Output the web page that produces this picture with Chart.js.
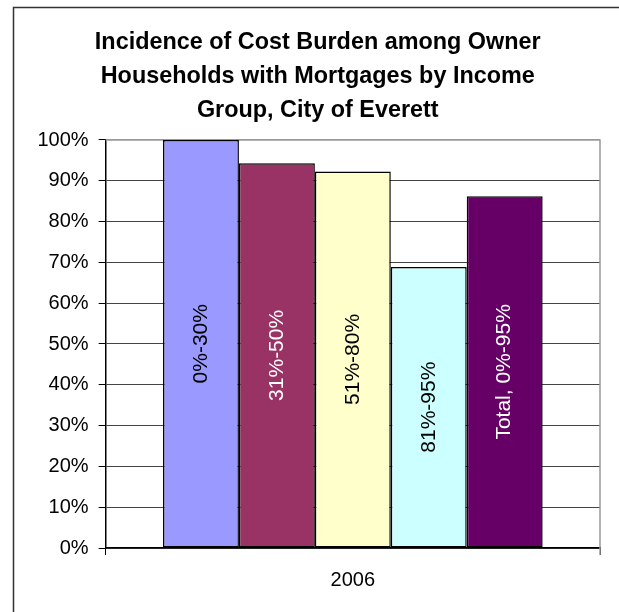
<!DOCTYPE html>
<html>
<head>
<meta charset="utf-8">
<script src="https://cdn.jsdelivr.net/npm/chart.js@4/dist/chart.umd.min.js"></script>
<style>
  html, body { margin: 0; padding: 0; background: #fff; }
  #wrap { width: 619px; height: 612px; }
</style>
</head>
<body>
<div id="wrap"><canvas id="c" width="619" height="612"></canvas></div>
<script>
// Cost burden among owner households with mortgages, Everett, 2006
const CATEGORIES = ["2006"];
const GROUPS = ["0%-30%", "31%-50%", "51%-80%", "81%-95%", "Total, 0%-95%"];
const SHARES = [100, 94.3, 92.3, 68.9, 86.2];
const COLORS = ["#9999ff", "#993366", "#ffffcc", "#ccffff", "#660066"];
const LABEL_COLORS = ["#000", "#fff", "#000", "#000", "#fff"];
const TITLE = [
  "Incidence of Cost Burden among Owner",
  "Households with Mortgages by Income",
  "Group, City of Everett",
];
const FONT = "'Liberation Sans', Arial, sans-serif";

// frame around the whole chart, plus the grey top/right edges of the plot
const frame = {
  id: "frame",
  beforeDraw(chart) {
    const ctx = chart.ctx;
    ctx.save();
    ctx.strokeStyle = "#333";
    ctx.lineWidth = 1.5;
    ctx.beginPath();
    ctx.moveTo(13.5, 612);
    ctx.lineTo(13.5, 7.5);
    ctx.lineTo(619, 7.5);
    ctx.stroke();
    ctx.restore();
  },
  beforeDatasetsDraw(chart) {
    const a = chart.chartArea, ctx = chart.ctx;
    ctx.save();
    ctx.strokeStyle = "#999";
    ctx.lineWidth = 1.5;
    ctx.beginPath();
    ctx.moveTo(a.left, a.top);
    ctx.lineTo(a.right, a.top);
    ctx.lineTo(a.right, a.bottom + 7);
    ctx.stroke();
    ctx.restore();
  },
};

// series names written sideways inside each bar
const barNames = {
  id: "barNames",
  afterDatasetsDraw(chart) {
    const ctx = chart.ctx;
    chart.data.datasets.forEach((ds, i) => {
      const bar = chart.getDatasetMeta(i).data[0];
      if (!bar) return;
      const cy = (bar.y + bar.base) / 2;
      ctx.save();
      ctx.translate(bar.x, cy);
      ctx.rotate(-Math.PI / 2);
      ctx.font = "21px " + FONT;
      ctx.fillStyle = LABEL_COLORS[i];
      ctx.textAlign = "center";
      ctx.textBaseline = "middle";
      ctx.fillText(ds.label, 0, 0);
      ctx.restore();
    });
  },
};

new Chart(document.getElementById("c"), {
  type: "bar",
  data: {
    labels: CATEGORIES,
    datasets: GROUPS.map((g, i) => ({
      label: g,
      data: [SHARES[i]],
      backgroundColor: COLORS[i],
      borderColor: "#000",
      borderWidth: 1.5,
      borderSkipped: false,
    })),
  },
  options: {
    responsive: false,
    animation: false,
    devicePixelRatio: 1,
    categoryPercentage: 0.768,
    barPercentage: 1,
    layout: { padding: { left: 35.5, right: 19, top: 11, bottom: 7 } },
    plugins: {
      legend: { display: false },
      tooltip: { enabled: false },
      title: {
        display: true,
        text: TITLE,
        color: "#000",
        font: { family: FONT, size: 23.4, weight: "bold", lineHeight: 1.44 },
        padding: { top: 15, bottom: 12.9 },
      },
    },
    scales: {
      x: {
        grid: { drawOnChartArea: false, tickLength: 7, color: "#000" },
        border: { color: "#000", width: 1.5 },
        ticks: { color: "#000", padding: 13, font: { family: FONT, size: 20 } },
      },
      y: {
        min: 0,
        max: 100,
        // labels hang a little into the left margin
        afterFit: (scale) => { scale.width -= 8; },
        grid: {
          color: (c) => (c.tick && c.tick.value === 100 ? "#999" : "#444"),
          tickColor: "#000",
          tickLength: 7,
          lineWidth: 1,
        },
        border: { color: "#000", width: 1.5 },
        ticks: {
          stepSize: 10,
          color: "#000",
          padding: 10,
          font: { family: FONT, size: 20 },
          callback: (v) => v + "%",
        },
      },
    },
  },
  plugins: [frame, barNames],
});
</script>
</body>
</html>
